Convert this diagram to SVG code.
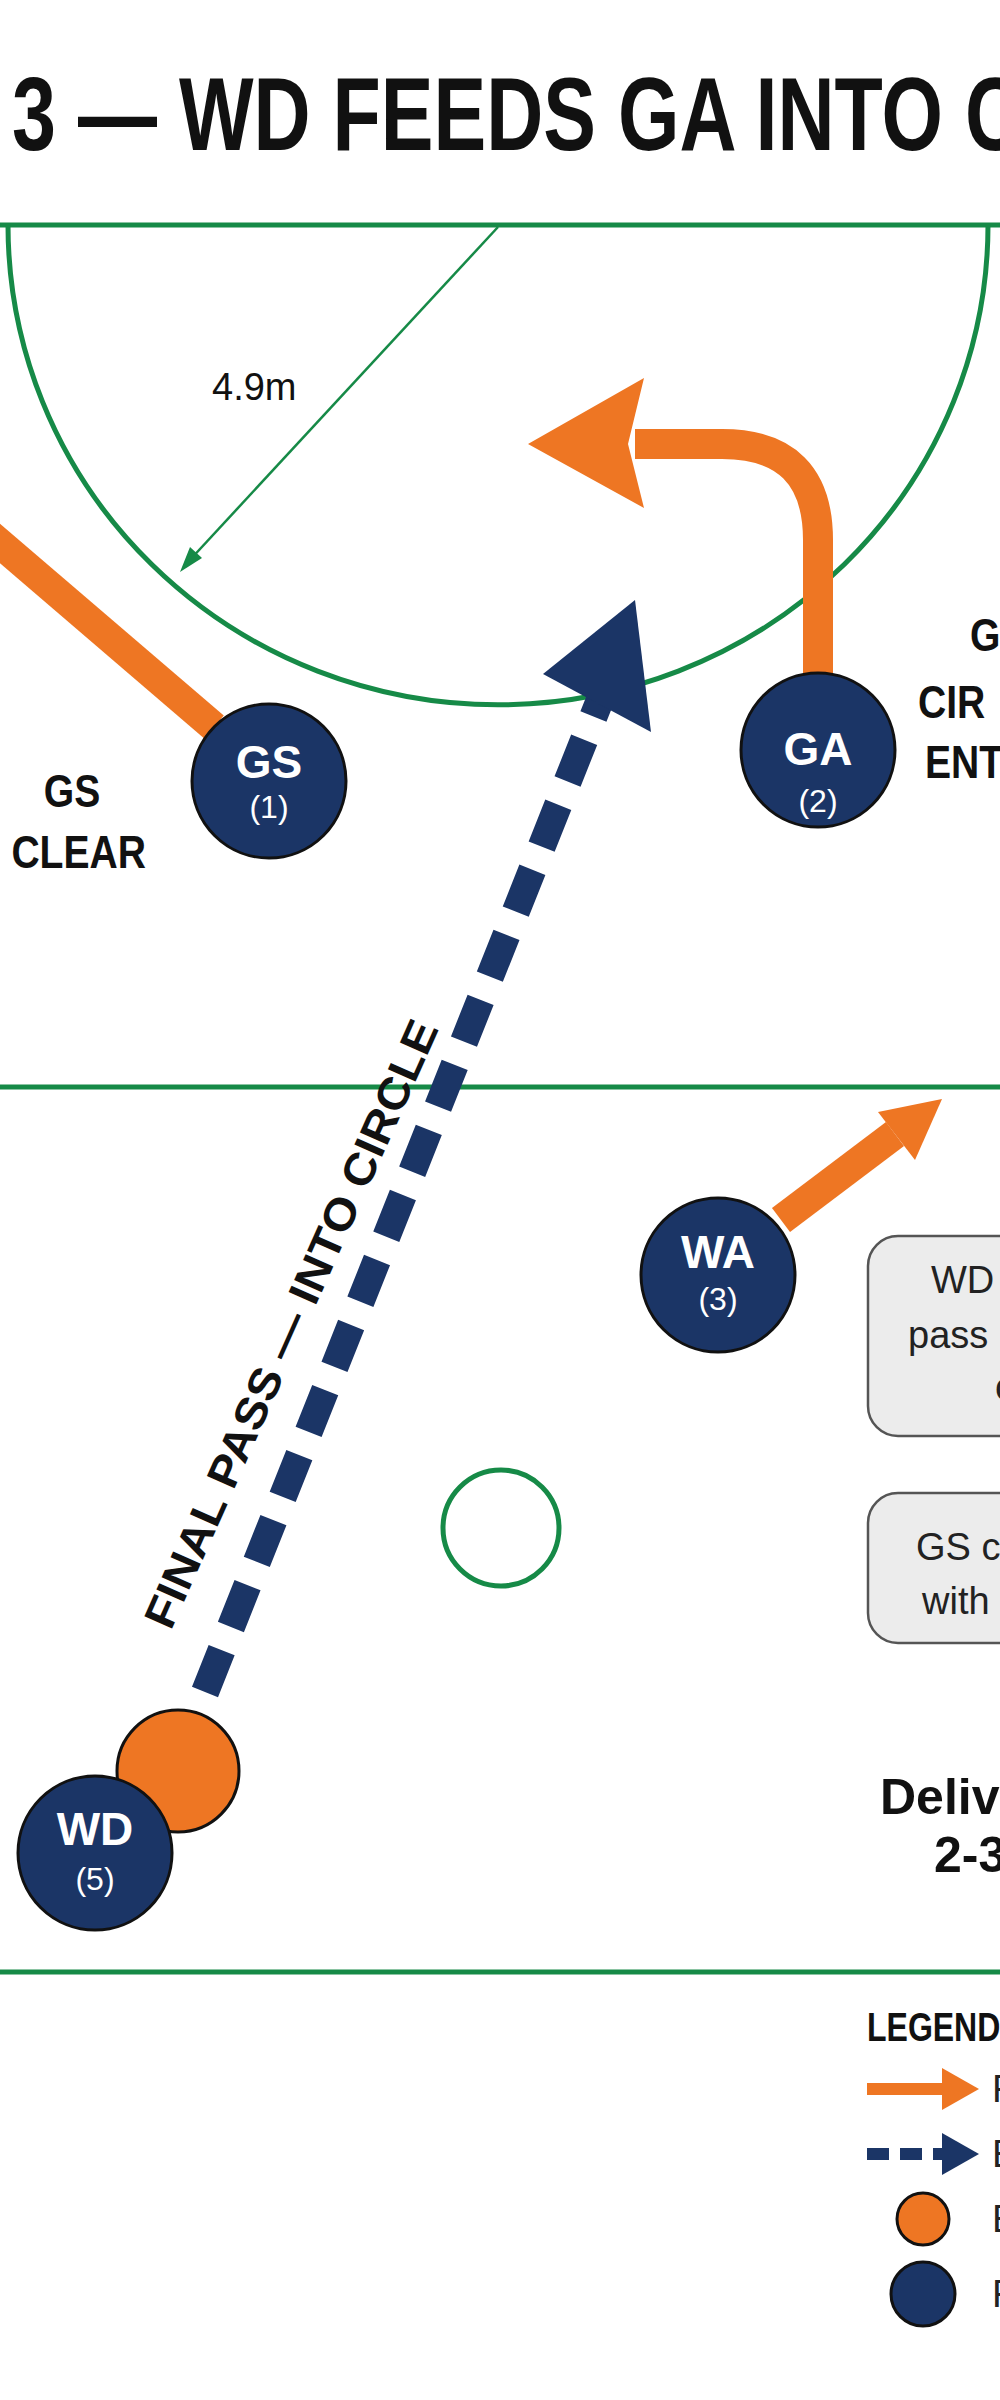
<svg xmlns="http://www.w3.org/2000/svg" width="1000" height="2400" viewBox="0 0 1000 2400">
<style>
.court{fill:none;stroke:#168a47;stroke-width:5}
.node{fill:#1b3566;stroke:#111;stroke-width:3}
.nl{font-family:"Liberation Sans",Arial,sans-serif;font-weight:bold;font-size:46px;fill:#fff;text-anchor:middle}
.nn{font-family:"Liberation Sans",Arial,sans-serif;font-size:32px;fill:#fff;text-anchor:middle}
.lab{font-family:"Liberation Sans",Arial,sans-serif;font-weight:bold;font-size:46px;fill:#111}
.box{fill:#ececec;stroke:#555;stroke-width:2.5}
.bt{font-family:"Liberation Sans",Arial,sans-serif;font-size:38px;fill:#222}
.run{fill:none;stroke:#ee7623;stroke-width:30}
.pass{fill:none;stroke:#1b3566;stroke-width:28;stroke-dasharray:45 25}
</style>
<rect width="1000" height="2400" fill="#fff"/>
<text x="12" y="150" class="lab" style="font-size:104px" transform="translate(12 0) scale(0.76 1) translate(-12 0)">3 — WD FEEDS GA INTO C</text>
<g id="court">
<line x1="0" y1="225" x2="1000" y2="225" class="court"/>
<path d="M8,225 A490,480 0 0 0 988,225" class="court"/>
<line x1="0" y1="1087" x2="1000" y2="1087" class="court"/>
<line x1="0" y1="1972" x2="1000" y2="1972" class="court"/>
<circle cx="501" cy="1528" r="58" class="court"/>
<line x1="498" y1="227" x2="188" y2="562" stroke="#168a47" stroke-width="2.5"/>
<polygon points="180,572 190,547 202,558" fill="#168a47"/>
<text x="212" y="400" font-family="Liberation Sans,Arial,sans-serif" font-size="38" fill="#111">4.9m</text>
</g>
<g id="connectors">
<line x1="214" y1="727" x2="-10" y2="535" class="run"/>
<path d="M818,689 V540 Q818,444 722,444 H635" class="run"/>
<polygon points="528,444 644,378 628,444 644,508" fill="#ee7623"/>
<line x1="781" y1="1220" x2="895" y2="1134" class="run"/>
<polygon points="942,1099 878,1112 915,1160" fill="#ee7623"/>
<line x1="205" y1="1692" x2="600" y2="700" class="pass"/>
<polygon points="635,600 543,674 651,732" fill="#1b3566"/>
<text transform="translate(305 1330) rotate(-66)" class="lab" style="font-size:44px" text-anchor="middle" textLength="660" lengthAdjust="spacingAndGlyphs">FINAL PASS — INTO CIRCLE</text>
</g>
<g id="ball"><circle cx="178" cy="1771" r="61" fill="#ee7623" stroke="#111" stroke-width="3"/></g>
<g id="GS"><circle cx="269" cy="781" r="77" class="node"/><text x="269" y="778" class="nl">GS</text><text x="269" y="818" class="nn">(1)</text></g>
<g id="GA"><circle cx="818" cy="750" r="77" class="node"/><text x="818" y="765" class="nl">GA</text><text x="818" y="812" class="nn">(2)</text></g>
<g id="WA"><circle cx="718" cy="1275" r="77" class="node"/><text x="718" y="1268" class="nl">WA</text><text x="718" y="1310" class="nn">(3)</text></g>
<g id="WD"><circle cx="95" cy="1853" r="77" class="node"/><text x="95" y="1845" class="nl">WD</text><text x="95" y="1890" class="nn">(5)</text></g>
<g id="labels">
<text x="72" y="807" class="lab" text-anchor="middle" transform="translate(72 0) scale(0.85 1) translate(-72 0)">GS</text>
<text x="146" y="868" class="lab" text-anchor="end" transform="translate(146 0) scale(0.85 1) translate(-146 0)">CLEAR</text>
<text x="970" y="651" class="lab" transform="translate(970 0) scale(0.85 1) translate(-970 0)">G</text>
<text x="918" y="718" class="lab" transform="translate(918 0) scale(0.85 1) translate(-918 0)">CIR</text>
<text x="925" y="778" class="lab" transform="translate(925 0) scale(0.85 1) translate(-925 0)">ENT</text>
</g>
<g id="box1"><rect x="868" y="1236" width="200" height="200" rx="30" class="box"/><text x="931" y="1293" class="bt">WD</text><text x="908" y="1348" class="bt">pass</text><text x="995" y="1400" class="bt">c</text></g>
<g id="box2"><rect x="868" y="1493" width="200" height="150" rx="30" class="box"/><text x="916" y="1560" class="bt">GS c</text><text x="922" y="1614" class="bt">with</text></g>
<g id="note"><text x="880" y="1814" class="lab" style="font-size:50px">Delive</text><text x="934" y="1872" class="lab" style="font-size:50px">2-3</text></g>
<g id="legend">
<text x="867" y="2041" class="lab" style="font-size:40px" transform="translate(867 0) scale(0.8 1) translate(-867 0)">LEGEND:</text>
<line x1="867" y1="2089" x2="945" y2="2089" stroke="#ee7623" stroke-width="12"/>
<polygon points="979,2089 942,2068 942,2110" fill="#ee7623"/>
<text x="992" y="2102" class="bt">F</text>
<line x1="867" y1="2154" x2="948" y2="2154" stroke="#1b3566" stroke-width="12" stroke-dasharray="22 11"/>
<polygon points="979,2154 942,2133 942,2175" fill="#1b3566"/>
<text x="992" y="2167" class="bt">E</text>
<circle cx="923" cy="2219" r="26" fill="#ee7623" stroke="#111" stroke-width="3"/>
<text x="992" y="2232" class="bt">E</text>
<circle cx="923" cy="2294" r="32" fill="#1b3566" stroke="#111" stroke-width="3"/>
<text x="992" y="2307" class="bt">F</text>
</g>
</svg>
